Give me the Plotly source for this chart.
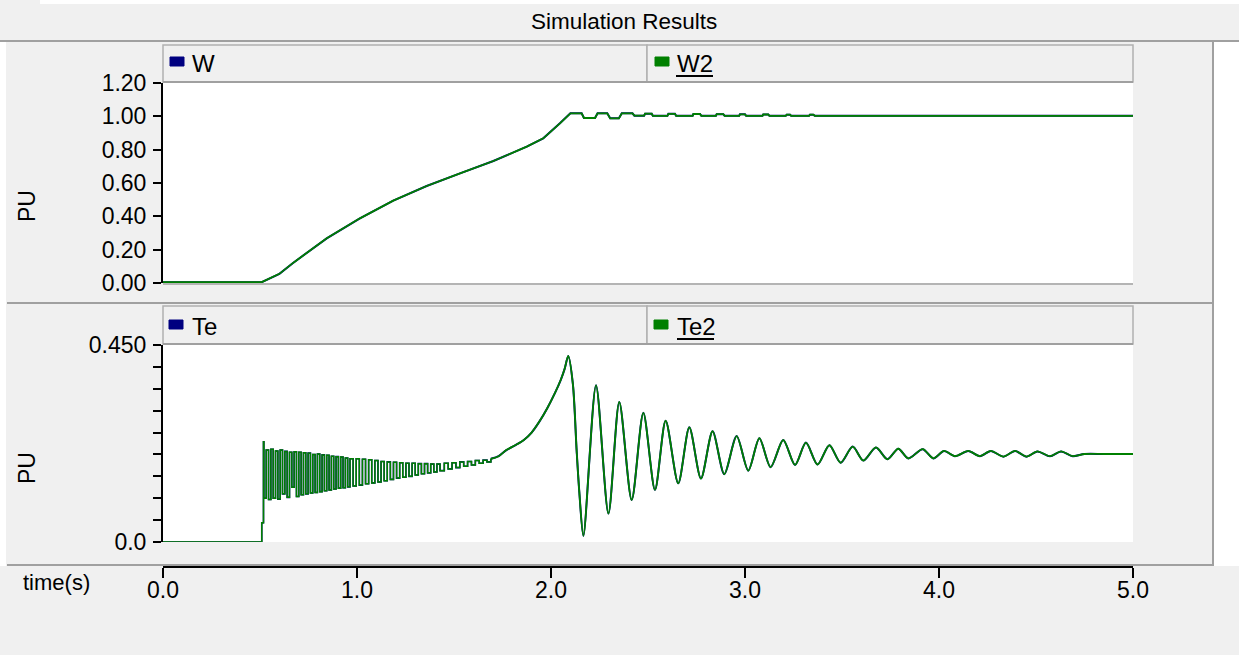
import plotly.graph_objects as go

# ---------------- data ----------------
w_time = [0.0, 0.5, 0.509, 0.6, 0.672, 0.844, 1.015, 1.187, 1.359, 1.531, 1.703, 1.875, 1.96, 2.046,
          2.1, 2.158, 2.17, 2.227, 2.24, 2.29, 2.305, 2.35, 2.365, 2.42, 2.43, 2.48, 2.485, 2.519,
          2.525, 2.6, 2.605, 2.639, 2.645, 2.73, 2.734, 2.768, 2.775, 2.85, 2.854, 2.888, 2.895,
          2.97, 2.974, 3.0, 3.006, 3.09, 3.094, 3.12, 3.126, 3.21, 3.215, 3.232, 3.238, 3.33,
          3.335, 3.352, 3.36, 5.0]
w_values = [0.005, 0.005, 0.005, 0.055, 0.122, 0.268, 0.388, 0.494, 0.582, 0.658, 0.732, 0.818, 0.868, 0.958,
            1.018, 1.018, 0.99, 0.99, 1.018, 1.018, 0.988, 0.988, 1.018, 1.018, 1.004, 1.004, 1.016, 1.016,
            1.003, 1.003, 1.015, 1.015, 1.003, 1.003, 1.014, 1.014, 1.003, 1.003, 1.013, 1.013, 1.003,
            1.003, 1.012, 1.012, 1.003, 1.003, 1.011, 1.011, 1.003, 1.003, 1.01, 1.01, 1.003, 1.003,
            1.01, 1.01, 1.003, 1.003]
w2_values = w_values

# Te, start-up part (fast sampled oscillation band, drawn as steps)
te_time_a = [0.0, 0.509, 0.518,
             0.52, 0.532, 0.544, 0.556, 0.568, 0.58, 0.592, 0.604, 0.616, 0.628, 0.64, 0.652, 0.664,
             0.676, 0.688, 0.70, 0.712, 0.724, 0.736, 0.748, 0.76, 0.772, 0.784, 0.796, 0.808, 0.82,
             0.832, 0.844, 0.856, 0.868, 0.88, 0.892, 0.904, 0.916, 0.928, 0.94, 0.952, 0.964,
             0.98, 0.996, 1.012, 1.028, 1.044, 1.06, 1.076, 1.092, 1.108, 1.124, 1.14, 1.156, 1.172,
             1.188, 1.204, 1.22, 1.236, 1.252, 1.268, 1.284, 1.30, 1.316, 1.332, 1.348, 1.364, 1.38,
             1.396, 1.412, 1.428, 1.45, 1.47, 1.49, 1.51, 1.53, 1.55, 1.57, 1.59, 1.61, 1.63, 1.65,
             1.67, 1.69]
te_values_a = [0.0, 0.044, 0.229,
               0.10, 0.21, 0.097, 0.212, 0.10, 0.208, 0.098, 0.21, 0.11, 0.207, 0.102, 0.205, 0.125,
               0.206, 0.104, 0.205, 0.108, 0.204, 0.11, 0.203, 0.112, 0.20, 0.113, 0.201, 0.115, 0.199,
               0.117, 0.198, 0.119, 0.196, 0.121, 0.195, 0.123, 0.194, 0.124, 0.192, 0.126, 0.19,
               0.128, 0.19, 0.13, 0.189, 0.133, 0.188, 0.135, 0.186, 0.137, 0.184, 0.14, 0.183, 0.143,
               0.182, 0.146, 0.181, 0.148, 0.18, 0.15, 0.18, 0.153, 0.179, 0.156, 0.179, 0.158, 0.178,
               0.16, 0.178, 0.163, 0.18, 0.167, 0.181, 0.17, 0.183, 0.173, 0.184, 0.176, 0.186, 0.18, 0.187,
               0.183, 0.19]
# Te, rise to peak and damped oscillation
te_time_b = [1.69, 1.73, 1.77, 1.82, 1.86, 1.9, 1.94, 1.98, 2.02, 2.05, 2.07, 2.089, 2.113, 2.132,
             2.146, 2.167, 2.232, 2.296, 2.352, 2.416, 2.476, 2.536, 2.591, 2.656, 2.713, 2.773, 2.833,
             2.893, 2.957, 3.017, 3.074, 3.132, 3.197, 3.258, 3.314, 3.374, 3.435, 3.493, 3.555, 3.61,
             3.675, 3.734, 3.79, 3.842, 3.916, 3.971, 4.026, 4.082, 4.151, 4.211, 4.267, 4.332, 4.392,
             4.452, 4.507, 4.572, 4.629, 4.689, 4.75, 4.85, 5.0]
te_values_b = [0.19, 0.196, 0.21, 0.222, 0.233, 0.25, 0.275, 0.305, 0.34, 0.37, 0.395, 0.425, 0.36, 0.21,
               0.114, 0.014, 0.358, 0.065, 0.32, 0.096, 0.295, 0.119, 0.277, 0.134, 0.262, 0.145,
               0.253, 0.155, 0.242, 0.163, 0.237, 0.171, 0.233, 0.176, 0.227, 0.177, 0.221, 0.181, 0.218,
               0.186, 0.216, 0.189, 0.213, 0.191, 0.212, 0.191, 0.208, 0.196, 0.208, 0.196, 0.208, 0.195,
               0.208, 0.195, 0.207, 0.196, 0.207, 0.196, 0.201, 0.201, 0.201]
te2_values_a = te_values_a
te2_values_b = te_values_b

time_ticks = [0, 1, 2, 3, 4, 5]
time_labels = ["0.0", "1.0", "2.0", "3.0", "4.0", "5.0"]
w_ticks = [0.0, 0.2, 0.4, 0.6, 0.8, 1.0, 1.2]
w_labels = ["0.00", "0.20", "0.40", "0.60", "0.80", "1.00", "1.20"]
te_ticks = [0.0, 0.05, 0.1, 0.15, 0.2, 0.25, 0.3, 0.35, 0.4, 0.45]
te_labels = ["0.0", "", "", "", "", "", "", "", "", "0.450"]

# ---------------- layout helpers (screen pixels -> paper) ----------------
W, H = 1239, 655
def px(x):
    return min(max(x / W, 0.0), 1.0)
def py(y):
    return min(max(1 - y / H, 0.0), 1.0)

NAVY = "#000080"
GREEN = "#008000"
GREY = "#f0f0f0"
EDGE = "#a0a0a0"
FONT = "Liberation Sans, Arial, sans-serif"

fig = go.Figure()
fig.add_trace(go.Scatter(x=w_time, y=w_values, mode="lines", line=dict(color=NAVY, width=2),
                         xaxis="x", yaxis="y", name="W"))
fig.add_trace(go.Scatter(x=w_time, y=w2_values, mode="lines", line=dict(color=GREEN, width=1.8),
                         xaxis="x", yaxis="y", name="W2"))
fig.add_trace(go.Scatter(x=te_time_a, y=te_values_a, mode="lines", line=dict(color=NAVY, width=1.6, shape="hv"),
                         xaxis="x2", yaxis="y2", name="Te"))
fig.add_trace(go.Scatter(x=te_time_b, y=te_values_b, mode="lines",
                         line=dict(color=NAVY, width=2, shape="spline", smoothing=0.8),
                         xaxis="x2", yaxis="y2", name="Te"))
fig.add_trace(go.Scatter(x=te_time_a, y=te2_values_a, mode="lines", line=dict(color=GREEN, width=1.5, shape="hv"),
                         xaxis="x2", yaxis="y2", name="Te2"))
fig.add_trace(go.Scatter(x=te_time_b, y=te2_values_b, mode="lines",
                         line=dict(color=GREEN, width=1.8, shape="spline", smoothing=0.8),
                         xaxis="x2", yaxis="y2", name="Te2"))

xdom = [px(163), px(1133)]
axis_font = dict(family=FONT, size=23, color="black")

shapes = []
annotations = []

def rect(x0, y0, x1, y1, fill):
    shapes.append(dict(type="rect", xref="paper", yref="paper", x0=px(x0), x1=px(x1), y0=py(y1), y1=py(y0),
                       fillcolor=fill, line=dict(color=fill, width=0), layer="below"))

def hline(x0, x1, y, color=EDGE, w=2):
    shapes.append(dict(type="line", xref="paper", yref="paper", x0=px(x0), x1=px(x1), y0=py(y), y1=py(y),
                       line=dict(color=color, width=w)))

def vline(x, y0, y1, color=EDGE, w=2):
    shapes.append(dict(type="line", xref="paper", yref="paper", x0=px(x), x1=px(x), y0=py(y0), y1=py(y1),
                       line=dict(color=color, width=w)))

# white strips around the panel
rect(40, 0, 1239, 4, "white")
rect(1214, 42, 1239, 566, "white")
rect(0, 42, 6, 566, "white")

# title bar border
hline(0, 1239, 41)
# panel borders
vline(1213, 41, 566)
hline(7, 1213, 303)
hline(7, 1213, 565)
# top plot bottom border
hline(163, 1133, 284, EDGE, 1.5)

# legend header boxes
for (y0, y1) in [(45, 82), (306, 344)]:
    for (x0, x1) in [(163, 647), (647, 1133)]:
        shapes.append(dict(type="rect", xref="paper", yref="paper", x0=px(x0), x1=px(x1), y0=py(y1), y1=py(y0),
                           fillcolor=GREY, line=dict(color="#b0b0b0", width=1.5)))
    hline(163, 1133, y1, EDGE, 2)

# legend markers
for (x0, y0, col) in [(170, 57, NAVY), (655, 57, GREEN), (169, 320, NAVY), (654, 320, GREEN)]:
    shapes.append(dict(type="rect", xref="paper", yref="paper", x0=px(x0), x1=px(x0 + 14), y0=py(y0 + 9), y1=py(y0),
                       fillcolor=col, line=dict(color=col, width=1)))
# underlines for selected series
hline(676, 713, 76, "black", 2)
hline(677, 714, 339, "black", 2)

def text(x, y, s, size=22, xanchor="left", angle=0):
    annotations.append(dict(text=s, x=px(x), y=py(y), xref="paper", yref="paper", showarrow=False,
                            xanchor=xanchor, yanchor="middle", textangle=angle,
                            font=dict(family=FONT, size=size, color="black")))

text(624, 22, "Simulation Results", 22.5, "center")
text(190, 64, "W", 24)
text(675, 64, "W2", 24)
text(190, 326, "Te", 24)
text(675, 326, "Te2", 24)
text(27, 206, "PU", 23, "center", -90)
text(27, 468, "PU", 23, "center", -90)
text(56, 582, "time(s)", 22, "center")

fig.update_layout(
    width=W, height=H, autosize=False,
    margin=dict(l=0, r=0, t=0, b=0, pad=0, autoexpand=False),
    paper_bgcolor=GREY, plot_bgcolor="white",
    showlegend=False,
    shapes=shapes, annotations=annotations,
    xaxis=dict(domain=xdom, range=[0, 5], visible=False, anchor="y"),
    yaxis=dict(domain=[py(283), py(83)], range=[0, 1.2], tickvals=w_ticks, ticktext=w_labels,
               showline=True, linecolor="black", linewidth=2, ticks="outside", ticklen=8, tickwidth=2,
               tickcolor="black", showgrid=False, zeroline=False, tickfont=axis_font, anchor="x",
               ticklabelstandoff=2, automargin=False),
    xaxis2=dict(domain=xdom, range=[0, 5], tickvals=time_ticks, ticktext=time_labels,
                anchor="free", position=py(567), showline=True, linecolor="black", linewidth=2,
                ticks="outside", ticklen=10, tickwidth=2, tickcolor="black", showgrid=False,
                zeroline=False, tickfont=axis_font, ticklabelstandoff=-8, automargin=False),
    yaxis2=dict(domain=[py(542), py(345)], range=[0, 0.45], tickvals=te_ticks, ticktext=te_labels,
                showline=True, linecolor="black", linewidth=2, ticks="outside", ticklen=8, tickwidth=2,
                tickcolor="black", showgrid=False, zeroline=False, tickfont=axis_font, anchor="x2",
                ticklabelstandoff=2, automargin=False),
)

fig.write_html("out.html", config={"displayModeBar": False},
               post_script="document.body.style.margin='0';document.body.style.overflow='hidden';")
